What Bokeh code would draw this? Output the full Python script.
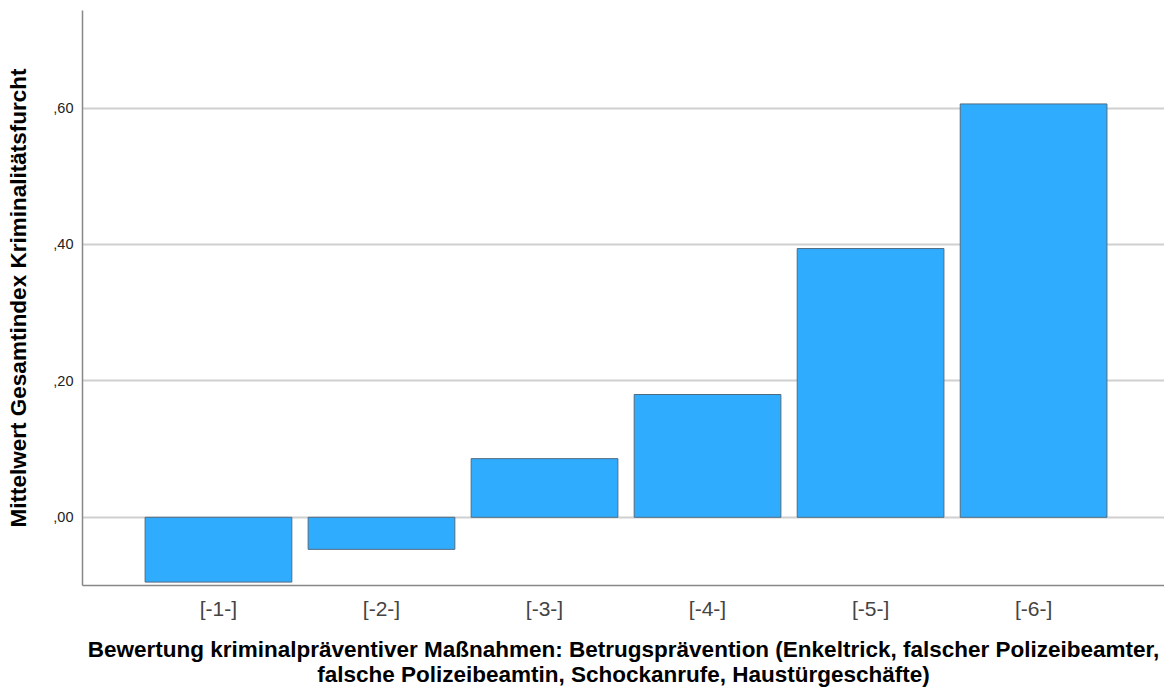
from bokeh.plotting import figure
from bokeh.models import ColumnDataSource, Range1d, FixedTicker
from bokeh.embed import file_html
from bokeh.resources import INLINE

# Mean of the overall fear-of-crime index per rating category
categories = ["[-1-]", "[-2-]", "[-3-]", "[-4-]", "[-5-]", "[-6-]"]
means = [-0.095, -0.047, 0.086, 0.180, 0.394, 0.606]
y_ticks = [0.0, 0.2, 0.4, 0.6]
y_tick_labels = [",00", ",20", ",40", ",60"]

positions = list(range(1, len(categories) + 1))
source = ColumnDataSource(dict(x=positions, top=means, cat=categories))

p = figure(
    width=1164, height=690,
    x_range=Range1d(0.166, 6.803), y_range=Range1d(-0.1, 0.743),
    output_backend="svg", toolbar_location=None,
    min_border_left=82, min_border_right=0, min_border_top=10, min_border_bottom=105,
)
p.outline_line_color = None
p.background_fill_color = "white"
p.border_fill_color = "white"

p.vbar(x="x", top="top", bottom=0, width=0.9, source=source,
       fill_color="#30acff", line_color="#4f6b80", line_width=1)

# y axis
p.yaxis.ticker = FixedTicker(ticks=y_ticks)
p.yaxis.major_label_overrides = {t: lab for t, lab in zip(y_ticks, y_tick_labels)}
p.yaxis.major_label_text_font = "Liberation Sans"
p.yaxis.major_label_text_font_size = "14.5px"
p.yaxis.major_label_text_color = "#222222"
p.yaxis.major_label_standoff = 3
p.yaxis.axis_label = "Mittelwert Gesamtindex Kriminalitätsfurcht"
p.yaxis.axis_label_text_font = "Liberation Sans"
p.yaxis.axis_label_text_font_style = "bold"
p.yaxis.axis_label_text_font_size = "22.5px"
p.yaxis.axis_label_text_color = "black"
p.yaxis.axis_label_standoff = 19

# x axis
p.xaxis.ticker = FixedTicker(ticks=positions)
p.xaxis.major_label_overrides = {i: c for i, c in zip(positions, categories)}
p.xaxis.major_label_text_font = "Liberation Sans"
p.xaxis.major_label_text_font_size = "21px"
p.xaxis.major_label_text_color = "#444444"
p.xaxis.major_label_standoff = 5
p.xaxis.axis_label = ("Bewertung kriminalpräventiver Maßnahmen: Betrugsprävention (Enkeltrick, falscher Polizeibeamter,\n"
                      "falsche Polizeibeamtin, Schockanrufe, Haustürgeschäfte)")
p.xaxis.axis_label_text_font = "Liberation Sans"
p.xaxis.axis_label_text_font_style = "bold"
p.xaxis.axis_label_text_font_size = "22.5px"
p.xaxis.axis_label_text_line_height = 1.0
p.xaxis.axis_label_text_color = "black"
p.xaxis.axis_label_standoff = 14

for ax in (p.xaxis, p.yaxis):
    ax.axis_line_color = "#888888"
    ax.axis_line_width = 1.5
    ax.major_tick_line_color = None
    ax.minor_tick_line_color = None

p.xgrid.grid_line_color = None
p.ygrid.grid_line_color = "#d0d0d0"
p.ygrid.grid_line_width = 2

open("out.html", "w").write(file_html(p, INLINE))
